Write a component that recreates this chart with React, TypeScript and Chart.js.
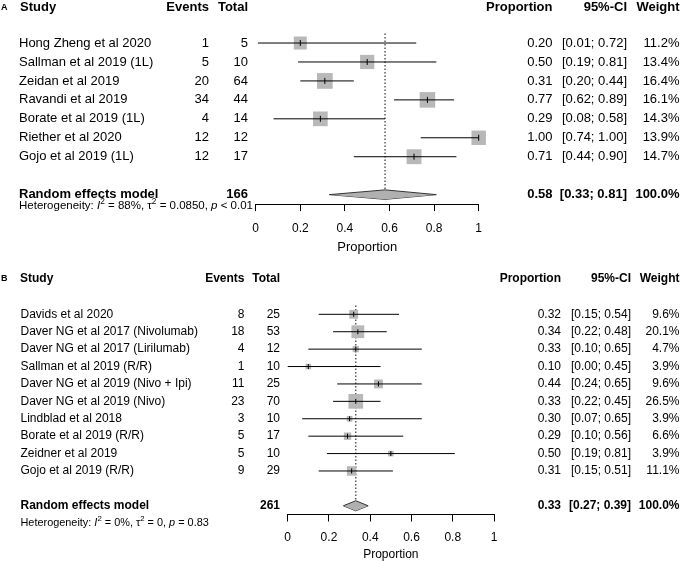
import React, { useEffect, useRef } from "react";
import { Chart, registerables } from "chart.js";

Chart.register(...registerables);

const FONT = '"Liberation Sans", Arial, Helvetica, sans-serif';

// ---------------- Panel A data ----------------
const studiesA = [
  "Hong Zheng et al 2020",
  "Sallman et al 2019 (1L)",
  "Zeidan et al 2019",
  "Ravandi et al 2019",
  "Borate et al 2019 (1L)",
  "Riether et al 2020",
  "Gojo et al 2019 (1L)",
];
const eventsA = [1, 5, 20, 34, 4, 12, 12];
const totalsA = [5, 10, 64, 44, 14, 12, 17];
const propA = [0.2, 0.5, 0.31, 0.77, 0.29, 1.0, 0.71];
const lowerA = [0.01, 0.19, 0.2, 0.62, 0.08, 0.74, 0.44];
const upperA = [0.72, 0.81, 0.44, 0.89, 0.58, 1.0, 0.9];
const weightsA = [11.2, 13.4, 16.4, 16.1, 14.3, 13.9, 14.7];
const summaryA = [0.58, 0.33, 0.81]; // estimate, lower, upper
const summaryTotalA = 166;
const hetA = ["88%", "0.0850", "<", "0.01"]; // I², tau², p-operator, p

// ---------------- Panel B data ----------------
const studiesB = [
  "Davids et al 2020",
  "Daver NG et al 2017 (Nivolumab)",
  "Daver NG et al 2017 (Lirilumab)",
  "Sallman et al 2019 (R/R)",
  "Daver NG et al 2019 (Nivo + Ipi)",
  "Daver NG et al 2019 (Nivo)",
  "Lindblad et al 2018",
  "Borate et al 2019 (R/R)",
  "Zeidner et al 2019",
  "Gojo et al 2019 (R/R)",
];
const eventsB = [8, 18, 4, 1, 11, 23, 3, 5, 5, 9];
const totalsB = [25, 53, 12, 10, 25, 70, 10, 17, 10, 29];
const propB = [0.32, 0.34, 0.33, 0.1, 0.44, 0.33, 0.3, 0.29, 0.5, 0.31];
const lowerB = [0.15, 0.22, 0.1, 0.0, 0.24, 0.22, 0.07, 0.1, 0.19, 0.15];
const upperB = [0.54, 0.48, 0.65, 0.45, 0.65, 0.45, 0.65, 0.56, 0.81, 0.51];
const weightsB = [9.6, 20.1, 4.7, 3.9, 9.6, 26.5, 3.9, 6.6, 3.9, 11.1];
const summaryB = [0.33, 0.27, 0.39];
const summaryTotalB = 261;
const hetB = ["0%", "0", "=", "0.83"];

// ---------------- shared labels ----------------
const headers = ["Study", "Events", "Total", "Proportion", "95%-CI", "Weight"];
const summaryLabel = "Random effects model";
const summaryWeight = "100.0%";
const xTickValues = [0, 0.2, 0.4, 0.6, 0.8, 1];
const xTickLabels = ["0", "0.2", "0.4", "0.6", "0.8", "1"];
const axisTitle = "Proportion";

type Panel = {
  letter: string;
  studies: string[];
  events: number[];
  totals: number[];
  prop: number[];
  lower: number[];
  upper: number[];
  weights: number[];
  summary: number[];
  summaryTotal: number;
  het: string[];
};

type Layout = {
  top: number;
  height: number;
  padTop: number;
  padLeft: number;
  padRight: number;
  axisH: number;
  tickPad: number;
  tickLen: number;
  titleSize: number;
  titlePadBottom: number;
  tickSize: number;
  yMin: number;
  yMax: number;
  headerRow: number;
  summaryRow: number;
  hetRow: number;
  size: number;
  headSize: number;
  hetSize: number;
  letterSize: number;
  cLetter: number;
  cHeadStudy: number;
  cStudy: number;
  cEvents: number;
  cTotal: number;
  cProp: number;
  cCI: number;
  cWeight: number;
  sqK: number;
  tickR: number;
  diamondH: number;
};

const panelA: Panel = {
  letter: "A",
  studies: studiesA,
  events: eventsA,
  totals: totalsA,
  prop: propA,
  lower: lowerA,
  upper: upperA,
  weights: weightsA,
  summary: summaryA,
  summaryTotal: summaryTotalA,
  het: hetA,
};

const panelB: Panel = {
  letter: "B",
  studies: studiesB,
  events: eventsB,
  totals: totalsB,
  prop: propB,
  lower: lowerB,
  upper: upperB,
  weights: weightsB,
  summary: summaryB,
  summaryTotal: summaryTotalB,
  het: hetB,
};

const layoutA: Layout = {
  top: 0,
  height: 262,
  padTop: 14.6,
  padLeft: 255.7,
  padRight: 201.3,
  axisH: 57.9,
  tickPad: 10.3,
  tickLen: 7,
  titleSize: 13,
  titlePadBottom: 6.6,
  tickSize: 12,
  yMin: -0.5,
  yMax: 9.5,
  headerRow: -0.9,
  summaryRow: 9,
  hetRow: 9.6,
  size: 13,
  headSize: 13,
  hetSize: 11.5,
  letterSize: 9,
  cLetter: 1,
  cHeadStudy: 20,
  cStudy: 19,
  cEvents: 209,
  cTotal: 248,
  cProp: 552.5,
  cCI: 627,
  cWeight: 679.5,
  sqK: 3.88,
  tickR: 3,
  diamondH: 0.25,
};

const layoutB: Layout = {
  top: 262,
  height: 300,
  padTop: 26.2,
  padLeft: 287.7,
  padRight: 186,
  axisH: 47.5,
  tickPad: 8.5,
  tickLen: 7,
  titleSize: 12,
  titlePadBottom: 0.3,
  tickSize: 12,
  yMin: -0.5,
  yMax: 12.5,
  headerRow: -1.03,
  summaryRow: 12,
  hetRow: 12.97,
  size: 12,
  headSize: 12,
  hetSize: 10.9,
  letterSize: 9,
  cLetter: 1,
  cHeadStudy: 20,
  cStudy: 20.5,
  cEvents: 244.5,
  cTotal: 280,
  cProp: 561,
  cCI: 631,
  cWeight: 679.5,
  sqK: 2.85,
  tickR: 2.5,
  diamondH: 0.29,
};

function makeConfig(p: Panel, L: Layout): any {
  const rows = p.studies.map((_, i) => i + 1);
  const [est, lo, hi] = p.summary;
  const sr = L.summaryRow;

  const ciData: any[] = [];
  rows.forEach((r, i) => {
    ciData.push({ x: p.lower[i], y: r });
    ciData.push({ x: p.upper[i], y: r });
    ciData.push({ x: null, y: null });
  });

  const textPlugin = {
    id: "forestText" + p.letter,
    afterDraw(chart: any) {
      const ctx: CanvasRenderingContext2D = chart.ctx;
      const ys = chart.scales.y;
      const Y = (v: number) => ys.getPixelForValue(v);
      ctx.save();
      ctx.fillStyle = "#000";
      ctx.textBaseline = "middle";
      const put = (
        t: string,
        x: number,
        y: number,
        align: CanvasTextAlign,
        size: number,
        bold = false
      ) => {
        ctx.font = `${bold ? "bold " : ""}${size}px ${FONT}`;
        ctx.textAlign = align;
        ctx.fillText(t, x, y);
      };

      // headers
      const hy = Y(L.headerRow);
      put(p.letter, L.cLetter, hy, "left", L.letterSize, true);
      put(headers[0], L.cHeadStudy, hy, "left", L.headSize, true);
      put(headers[1], L.cEvents, hy, "right", L.headSize, true);
      put(headers[2], L.cTotal, hy, "right", L.headSize, true);
      put(headers[3], L.cProp, hy, "right", L.headSize, true);
      put(headers[4], L.cCI, hy, "right", L.headSize, true);
      put(headers[5], L.cWeight, hy, "right", L.headSize, true);

      // studies
      rows.forEach((r, i) => {
        const y = Y(r);
        put(p.studies[i], L.cStudy, y, "left", L.size);
        put(String(p.events[i]), L.cEvents, y, "right", L.size);
        put(String(p.totals[i]), L.cTotal, y, "right", L.size);
        put(p.prop[i].toFixed(2), L.cProp, y, "right", L.size);
        put(
          `[${p.lower[i].toFixed(2)}; ${p.upper[i].toFixed(2)}]`,
          L.cCI,
          y,
          "right",
          L.size
        );
        put(`${p.weights[i].toFixed(1)}%`, L.cWeight, y, "right", L.size);
      });

      // summary
      const sy = Y(sr);
      put(summaryLabel, L.cStudy, sy, "left", L.size, true);
      put(String(p.summaryTotal), L.cTotal, sy, "right", L.size, true);
      put(est.toFixed(2), L.cProp, sy, "right", L.size, true);
      put(`[${lo.toFixed(2)}; ${hi.toFixed(2)}]`, L.cCI, sy, "right", L.size, true);
      put(summaryWeight, L.cWeight, sy, "right", L.size, true);

      // heterogeneity
      const hty = Y(L.hetRow);
      const s = L.hetSize;
      const segs: { t: string; st?: string }[] = [
        { t: "Heterogeneity: " },
        { t: "I", st: "i" },
        { t: "2", st: "sup" },
        { t: ` = ${p.het[0]}, ` },
        { t: "\u03C4" },
        { t: "2", st: "sup" },
        { t: ` = ${p.het[1]}, ` },
        { t: "p", st: "i" },
        { t: ` ${p.het[2]} ${p.het[3]}` },
      ];
      let x = L.cStudy;
      ctx.textAlign = "left";
      segs.forEach((sg) => {
        let size = s;
        let yy = hty;
        let style = "";
        if (sg.st === "i") style = "italic ";
        if (sg.st === "sup") {
          size = s * 0.72;
          yy = hty - s * 0.38;
        }
        ctx.font = `${style}${size}px ${FONT}`;
        ctx.fillText(sg.t, x, yy);
        x += ctx.measureText(sg.t).width;
      });

      ctx.restore();
    },
  };

  return {
    type: "scatter",
    data: {
      datasets: [
        {
          // reference (summary) dotted line
          data: [
            { x: est, y: 0.5 },
            { x: est, y: sr },
          ],
          showLine: true,
          borderColor: "#444",
          borderWidth: 1.3,
          borderDash: [1.5, 2],
          pointRadius: 0,
          clip: false,
          order: 10,
        },
        {
          // weighted squares
          data: rows.map((r, i) => ({ x: p.prop[i], y: r })),
          pointStyle: "rect",
          pointRadius: p.weights.map((w) => (L.sqK * Math.sqrt(w)) / Math.SQRT2),
          backgroundColor: "#b8b8b8",
          borderWidth: 0,
          showLine: false,
          clip: false,
          order: 5,
        },
        {
          // confidence intervals
          data: ciData,
          showLine: true,
          spanGaps: false,
          borderColor: "#000",
          borderWidth: 1,
          pointRadius: 0,
          clip: false,
          order: 4,
        },
        {
          // point estimate ticks
          data: rows.map((r, i) => ({ x: p.prop[i], y: r })),
          pointStyle: "line",
          pointRotation: 90,
          pointRadius: L.tickR,
          borderColor: "#000",
          pointBorderColor: "#000",
          pointBorderWidth: 1,
          showLine: false,
          clip: false,
          order: 3,
        },
        {
          // diamond upper half
          data: [
            { x: lo, y: sr },
            { x: est, y: sr - L.diamondH },
            { x: hi, y: sr },
          ],
          showLine: true,
          fill: "+1",
          backgroundColor: "#b0b0b0",
          borderColor: "#333",
          borderWidth: 1,
          pointRadius: 0,
          clip: false,
          order: 2,
        },
        {
          // diamond lower half
          data: [
            { x: lo, y: sr },
            { x: est, y: sr + L.diamondH },
            { x: hi, y: sr },
          ],
          showLine: true,
          fill: false,
          borderColor: "#333",
          borderWidth: 1,
          pointRadius: 0,
          clip: false,
          order: 2,
        },
      ],
    },
    options: {
      responsive: false,
      animation: false,
      events: [],
      layout: {
        padding: { top: L.padTop, left: L.padLeft, right: L.padRight, bottom: 0 },
      },
      plugins: {
        legend: { display: false },
        tooltip: { enabled: false },
      },
      scales: {
        x: {
          type: "linear",
          min: 0,
          max: 1,
          afterBuildTicks: (scale: any) => {
            scale.ticks = xTickValues.map((v) => ({ value: v }));
          },
          afterFit: (scale: any) => {
            scale.height = L.axisH;
          },
          ticks: {
            padding: L.tickPad,
            color: "#000",
            font: { family: FONT, size: L.tickSize },
            maxRotation: 0,
            autoSkip: false,
            callback: (v: number) => {
              const idx = xTickValues.findIndex((t) => Math.abs(t - v) < 1e-9);
              return idx >= 0 ? xTickLabels[idx] : "";
            },
          },
          grid: {
            display: true,
            drawOnChartArea: false,
            drawTicks: true,
            tickLength: L.tickLen,
            color: "#000",
            lineWidth: 1,
          },
          border: { display: true, color: "#000", width: 1 },
          title: {
            display: true,
            text: axisTitle,
            color: "#000",
            font: { family: FONT, size: L.titleSize },
            padding: { top: 0, bottom: L.titlePadBottom },
          },
        },
        y: {
          type: "linear",
          display: false,
          reverse: true,
          min: L.yMin,
          max: L.yMax,
        },
      },
    },
    plugins: [textPlugin],
  };
}

function ForestPanel({ panel, layout }: { panel: Panel; layout: Layout }) {
  const ref = useRef<HTMLCanvasElement>(null);
  useEffect(() => {
    const canvas = ref.current;
    if (!canvas) return;
    const chart = new Chart(canvas, makeConfig(panel, layout));
    return () => chart.destroy();
  }, [panel, layout]);
  return (
    <canvas
      ref={ref}
      width={680}
      height={layout.height}
      style={{
        position: "absolute",
        left: 0,
        top: layout.top,
        width: 680,
        height: layout.height,
        display: "block",
      }}
    />
  );
}

export default function App() {
  return (
    <div
      style={{
        position: "absolute",
        left: 0,
        top: 0,
        width: 680,
        height: 562,
        background: "#fff",
        overflow: "hidden",
      }}
    >
      <ForestPanel panel={panelA} layout={layoutA} />
      <ForestPanel panel={panelB} layout={layoutB} />
    </div>
  );
}
